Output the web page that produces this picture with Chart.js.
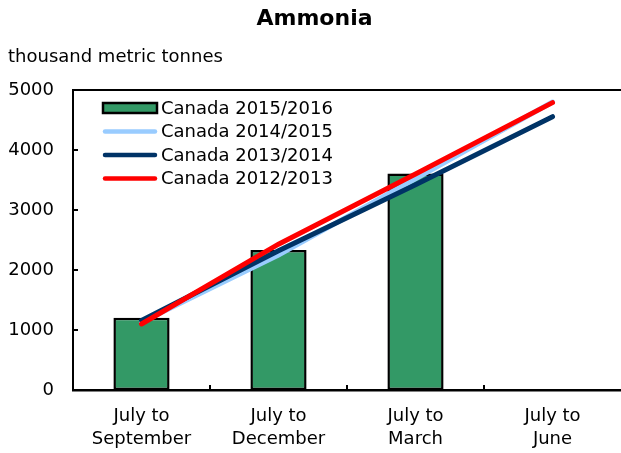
<!DOCTYPE html>
<html>
<head>
<meta charset="utf-8">
<script src="https://cdn.jsdelivr.net/npm/chart.js@4/dist/chart.umd.min.js"></script>
<style>
  html, body { margin: 0; padding: 0; background: #ffffff; }
  #wrap { width: 621px; height: 453px; }
</style>
</head>
<body>
<div id="wrap"><canvas id="c" width="621" height="453"></canvas></div>
<script>
const titleText = 'Ammonia';
const unitText = 'thousand metric tonnes';
const categories = [['July to', 'September'], ['July to', 'December'], ['July to', 'March'], ['July to', 'June']];
const yTickValues = [0, 1000, 2000, 3000, 4000, 5000];
const canada2015_2016 = [1205, 2335, 3610, null];
const canada2014_2015 = [1130, 2250, 3520, 4800];
const canada2013_2014 = [1160, 2320, 3420, 4555];
const canada2012_2013 = [1100, 2430, 3600, 4790];

const FONT = "'DejaVu Sans', Verdana, sans-serif";

const innerDecor = {
  id: 'innerDecor',
  afterDraw(chart) {
    const ctx = chart.ctx;
    const a = chart.chartArea;
    const x = chart.scales.x, y = chart.scales.y;
    ctx.save();
    ctx.strokeStyle = '#000';
    ctx.lineWidth = 2;
    // top border
    ctx.beginPath();
    ctx.moveTo(a.left - 1, a.top);
    ctx.lineTo(chart.width, a.top);
    ctx.stroke();
    // inward y ticks
    y.ticks.forEach((t, i) => {
      const py = Math.round(y.getPixelForTick(i));
      ctx.beginPath();
      ctx.moveTo(a.left, py);
      ctx.lineTo(a.left + 5, py);
      ctx.stroke();
    });
    // inward x ticks between categories
    for (let i = 0; i < x.ticks.length - 1; i++) {
      const px = Math.round((x.getPixelForTick(i) + x.getPixelForTick(i + 1)) / 2);
      ctx.beginPath();
      ctx.moveTo(px, a.bottom);
      ctx.lineTo(px, a.bottom - 5);
      ctx.stroke();
    }
    // legend
    const lx = a.left + 30, ly = a.top + 18, rowH = 23.5, sw = 54;
    ctx.font = '18px ' + FONT;
    ctx.textBaseline = 'middle';
    ctx.textAlign = 'left';
    chart.data.datasets.forEach((ds, i) => {
      const cy = ly + i * rowH;
      if (ds.type === 'bar') {
        ctx.fillStyle = ds.backgroundColor;
        ctx.fillRect(lx, cy - 5, sw, 10);
        ctx.lineWidth = 2.5;
        ctx.strokeStyle = '#000';
        ctx.strokeRect(lx, cy - 5, sw, 10);
      } else {
        ctx.lineWidth = 4.5;
        ctx.lineCap = 'round';
        ctx.strokeStyle = ds.borderColor;
        ctx.beginPath();
        ctx.moveTo(lx + 2, cy);
        ctx.lineTo(lx + sw - 2, cy);
        ctx.stroke();
      }
      ctx.fillStyle = '#000';
      ctx.fillText(ds.label, lx + sw + 4, cy + 1);
    });
    ctx.restore();
  }
};

new Chart(document.getElementById('c'), {
  data: {
    labels: categories,
    datasets: [
      { type: 'bar', label: 'Canada 2015/2016', data: canada2015_2016, backgroundColor: '#339966',
        borderColor: '#000', borderWidth: 2.5, borderSkipped: false, categoryPercentage: 1, barPercentage: 0.41, order: 4 },
      { type: 'line', label: 'Canada 2014/2015', data: canada2014_2015, borderColor: '#99ccff', borderWidth: 5,
        pointRadius: 0, tension: 0, borderCapStyle: 'round', order: 3 },
      { type: 'line', label: 'Canada 2013/2014', data: canada2013_2014, borderColor: '#003366', borderWidth: 5,
        pointRadius: 0, tension: 0, borderCapStyle: 'round', order: 2 },
      { type: 'line', label: 'Canada 2012/2013', data: canada2012_2013, borderColor: '#ff0000', borderWidth: 5,
        pointRadius: 0, tension: 0, borderCapStyle: 'round', order: 1 }
    ]
  },
  options: {
    responsive: false,
    animation: false,
    devicePixelRatio: 1,
    layout: { padding: { left: 8, right: 0, top: 0, bottom: 0 } },
    plugins: {
      legend: { display: false },
      tooltip: { enabled: false },
      title: { display: true, text: titleText, color: '#000',
        font: { family: FONT, size: 22, weight: 'bold' }, padding: { top: 6, bottom: 14 } },
      subtitle: { display: true, text: unitText, align: 'start', color: '#000',
        font: { family: FONT, size: 18 }, padding: { top: 0, bottom: 22 } }
    },
    scales: {
      x: {
        offset: true,
        grid: { display: false, drawTicks: false },
        border: { display: true, color: '#000', width: 2.5 },
        ticks: { color: '#000', font: { family: FONT, size: 18, lineHeight: 1.28 }, padding: 15, maxRotation: 0, autoSkip: false },
        afterFit(s) { s.height = 63; }
      },
      y: {
        min: 0, max: 5000,
        afterBuildTicks(s) { s.ticks = yTickValues.map(v => ({ value: v })); },
        grid: { display: false, drawTicks: false },
        border: { display: true, color: '#000', width: 2 },
        ticks: { color: '#000', font: { family: FONT, size: 18 }, padding: 19, callback: v => String(v) },
        afterFit(s) { s.width = 65; }
      }
    }
  },
  plugins: [innerDecor]
});
</script>
</body>
</html>
